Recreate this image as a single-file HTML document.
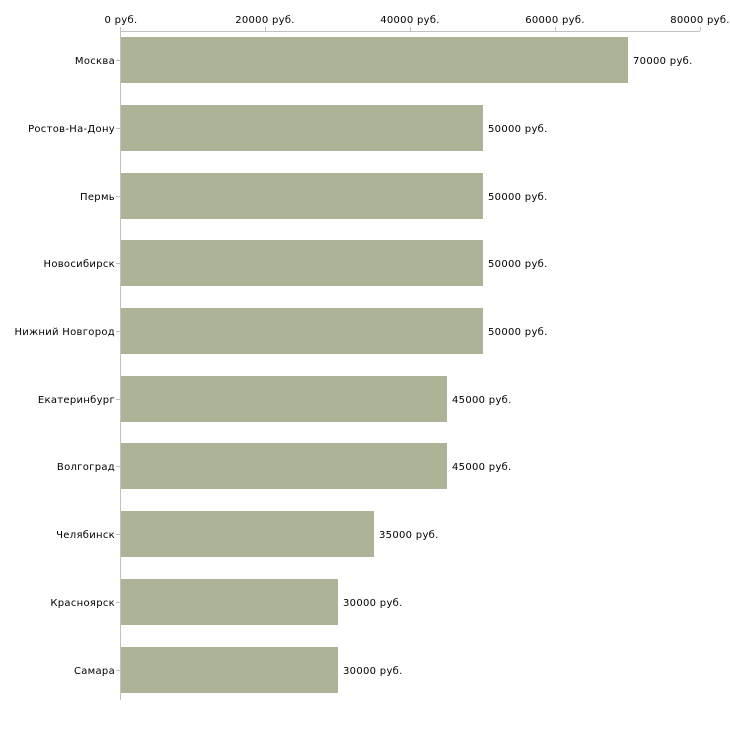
<!DOCTYPE html>
<html><head><meta charset="utf-8"><style>body{margin:0;background:#fff}</style></head><body>
<svg width="730" height="730" xmlns="http://www.w3.org/2000/svg" font-family="DejaVu Sans, Verdana, sans-serif" font-size="10" letter-spacing="0.3" fill="#000">
<g stroke="#c0c0c0" stroke-width="1">
<line x1="120" y1="31.5" x2="700" y2="31.5"/>
<line x1="120.5" y1="31" x2="120.5" y2="700"/>
<line x1="265.5" y1="27" x2="265.5" y2="31"/>
<line x1="410.5" y1="27" x2="410.5" y2="31"/>
<line x1="555.5" y1="27" x2="555.5" y2="31"/>
<line x1="700.5" y1="27" x2="700.5" y2="31"/>
<line x1="120.5" y1="27" x2="120.5" y2="31"/>
</g>
<g text-anchor="middle">
<text x="121" y="23">0 руб.</text>
<text x="265" y="23">20000 руб.</text>
<text x="410" y="23">40000 руб.</text>
<text x="555" y="23">60000 руб.</text>
<text x="700" y="23">80000 руб.</text>
</g>
<g fill="#acb396">
<rect x="121" y="37" width="507" height="46"/>
<rect x="121" y="105" width="362" height="46"/>
<rect x="121" y="173" width="362" height="46"/>
<rect x="121" y="240" width="362" height="46"/>
<rect x="121" y="308" width="362" height="46"/>
<rect x="121" y="376" width="326" height="46"/>
<rect x="121" y="443" width="326" height="46"/>
<rect x="121" y="511" width="253" height="46"/>
<rect x="121" y="579" width="217" height="46"/>
<rect x="121" y="647" width="217" height="46"/>
</g>
<g stroke="#c0c0c0">
<line x1="116" y1="60.5" x2="120" y2="60.5"/><line x1="116" y1="128.5" x2="120" y2="128.5"/><line x1="116" y1="196.5" x2="120" y2="196.5"/><line x1="116" y1="263.5" x2="120" y2="263.5"/><line x1="116" y1="331.5" x2="120" y2="331.5"/><line x1="116" y1="399.5" x2="120" y2="399.5"/><line x1="116" y1="466.5" x2="120" y2="466.5"/><line x1="116" y1="534.5" x2="120" y2="534.5"/><line x1="116" y1="602.5" x2="120" y2="602.5"/><line x1="116" y1="670.5" x2="120" y2="670.5"/>
</g>
<g text-anchor="end">
<text x="115" y="64">Москва</text>
<text x="115" y="132">Ростов-На-Дону</text>
<text x="115" y="200">Пермь</text>
<text x="115" y="267">Новосибирск</text>
<text x="115" y="335">Нижний Новгород</text>
<text x="115" y="403">Екатеринбург</text>
<text x="115" y="470">Волгоград</text>
<text x="115" y="538">Челябинск</text>
<text x="115" y="606">Красноярск</text>
<text x="115" y="674">Самара</text>
</g>
<g>
<text x="633" y="64">70000 руб.</text>
<text x="488" y="132">50000 руб.</text>
<text x="488" y="200">50000 руб.</text>
<text x="488" y="267">50000 руб.</text>
<text x="488" y="335">50000 руб.</text>
<text x="452" y="403">45000 руб.</text>
<text x="452" y="470">45000 руб.</text>
<text x="379" y="538">35000 руб.</text>
<text x="343" y="606">30000 руб.</text>
<text x="343" y="674">30000 руб.</text>
</g>
</svg>
</body></html>
